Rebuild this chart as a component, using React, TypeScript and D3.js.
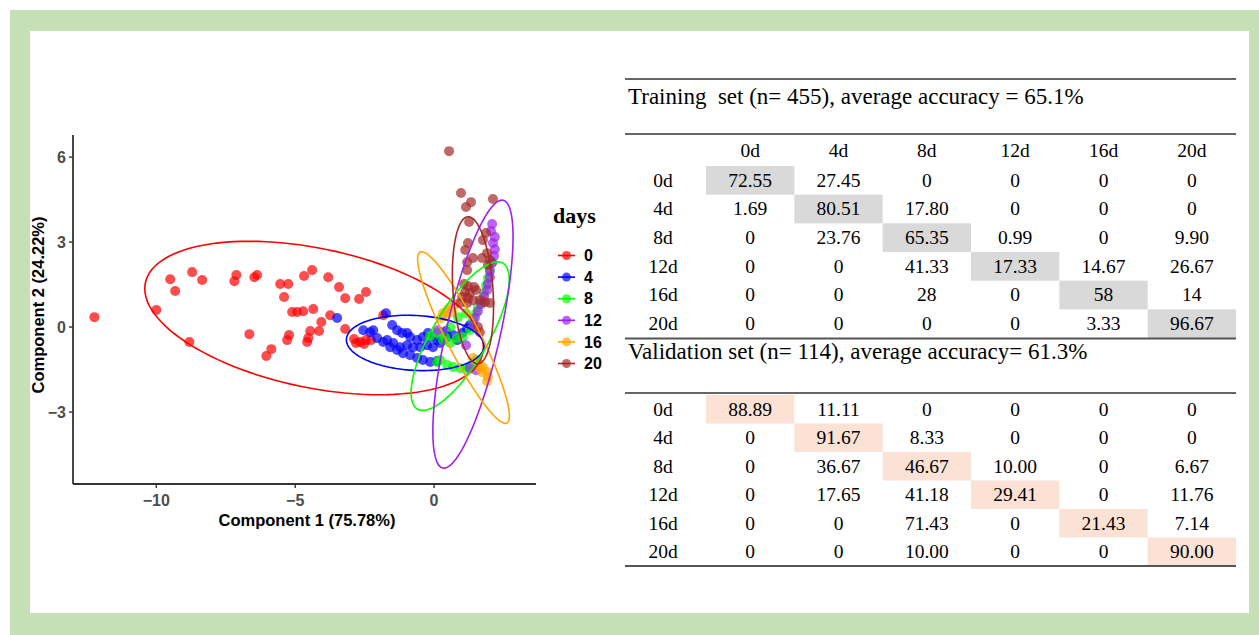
import * as d3 from 'd3';

// ---- scatter data (Component 1, Component 2) ----
const DAYS = ['0', '4', '8', '12', '16', '20'];
const DAY_COLORS = ['#FF0000', '#0000FF', '#00FF00', '#A020F0', '#FFA500', '#A52A2A'];

const day0: [number, number][] = [
  [-12.23, 0.35], [-10.0, 0.6], [-8.81, -0.53], [-9.5, 1.69], [-9.32, 1.27], [-8.71, 1.94],
  [-8.35, 1.66], [-7.19, 1.62], [-7.12, 1.84], [-6.47, 1.76], [-6.37, 1.84], [-6.65, -0.25],
  [-6.04, -1.02], [-5.86, -0.78], [-5.54, 1.52], [-5.25, 1.52], [-5.4, 1.06], [-4.68, 1.8],
  [-4.39, 2.01], [-3.81, 1.76], [-3.42, 1.41], [-3.2, 1.02], [-2.7, 0.99], [-2.45, 1.24],
  [-5.11, 0.53], [-4.93, 0.53], [-4.71, 0.56], [-4.35, 0.64], [-3.74, 0.42], [-4.06, 0.18],
  [-4.14, -0.14], [-4.46, -0.14], [-4.53, -0.39], [-4.57, -0.53], [-5.22, -0.28], [-5.29, -0.46],
  [-3.2, -0.07], [-2.88, -0.42], [-2.66, -0.53], [-2.45, -0.46], [-2.81, -0.56], [-2.52, -0.6],
  [-2.27, -0.46], [-1.83, 0.42],
];
const day4: [number, number][] = [
  [-3.49, 0.32], [-1.73, 0.49], [-1.51, 0.07], [-1.33, -0.11], [-1.15, -0.21], [-0.97, -0.21],
  [-0.86, -0.35], [-0.61, -0.46], [-0.4, -0.35], [-0.22, -0.21], [-2.55, -0.11], [-2.3, -0.18],
  [-2.19, -0.11], [-2.05, -0.39], [-1.83, -0.53], [-1.58, -0.71], [-1.33, -0.81], [-1.12, -0.92],
  [-0.86, -0.99], [-0.61, -1.09], [-0.4, -1.16], [-0.14, -1.23], [0.11, -1.2], [-1.69, -0.46],
  [-1.47, -0.56], [-1.22, -0.71], [-0.97, -0.64], [-0.76, -0.71], [-0.5, -0.71], [-0.25, -0.64],
  [-0.04, -0.71], [0.22, -0.56], [0.32, -0.46], [0.47, -0.35], [0.68, -0.28], [0.83, -0.46],
  [1.01, -0.21], [1.19, -0.04], [1.29, 0.07], [-0.11, -0.35], [0.11, -0.46], [0.43, -0.14],
];
const day8: [number, number][] = [
  [-0.14, -0.32], [0.11, -0.21], [0.32, -0.46], [0.58, -0.56], [0.83, -0.39], [1.04, -0.35],
  [1.29, -0.11], [1.4, 0.25], [1.51, 0.49], [1.58, 0.71], [1.69, 0.88], [1.8, 1.2],
  [1.87, 1.48], [1.94, 1.73], [2.01, 2.01], [2.09, 2.29], [0.22, -1.16], [0.47, -1.34],
  [0.68, -1.41], [0.94, -1.45], [1.15, -1.48], [0.58, 0.0], [0.86, 0.35], [1.15, 0.49],
  [0.4, -0.35], [1.51, -1.16], [1.29, -1.38], [0.11, -1.24],
];
const day12: [number, number][] = [
  [2.09, 3.64], [2.12, 2.97], [2.19, 2.75], [2.16, 2.51], [2.09, 2.26], [2.01, 1.98],
  [2.01, 1.76], [1.94, 1.52], [1.91, 1.31], [1.8, 1.09], [1.69, 0.81], [1.58, 0.56],
  [1.47, 0.32], [1.4, 0.07], [0.14, -0.11], [1.29, -1.45], [1.51, -1.52], [1.15, -0.64],
  [2.19, 3.18], [2.05, 3.39],
];
const day16: [number, number][] = [
  [0.32, 0.49], [0.47, 0.6], [0.58, 0.71], [0.76, 0.81], [0.65, 0.53], [0.43, 0.39],
  [0.25, 0.32], [1.58, -1.27], [1.76, -1.41], [1.91, -1.59], [1.94, -1.76], [1.91, -1.91],
  [1.73, -1.59], [1.65, -1.45], [1.4, -1.09],
];
const day20: [number, number][] = [
  [0.54, 6.21], [0.97, 4.73], [1.33, 4.41], [1.15, 4.24], [2.12, 4.52], [1.26, 3.71],
  [1.87, 3.32], [1.76, 3.07], [1.22, 2.97], [1.12, 2.72], [1.19, 2.29], [1.4, 2.44],
  [1.73, 2.44], [1.91, 2.61], [2.01, 2.36], [1.94, 2.19], [1.19, 2.01], [1.22, 1.45],
  [1.44, 1.41], [1.12, 1.24], [1.29, 1.2], [1.51, 1.31], [1.01, 1.06], [1.22, 1.02],
  [1.4, 0.95], [1.19, 0.85], [0.94, 0.85], [1.65, 0.95], [1.83, 0.88], [2.01, 0.85],
  [1.58, 0.0], [1.65, -0.18], [1.08, 1.52],
];
const POINTS = [day0, day4, day8, day12, day16, day20];

// 95% ellipses per group: centre, semi-axes, rotation (deg), in data units
const ellipseCx = [-4.32, -0.68, 0.94, 1.4, 1.06, 1.4];
const ellipseCy = [0.32, -0.56, -0.32, -0.25, -0.37, 1.3];
const ellipseRx = [6.2, 2.48, 3.0, 4.85, 3.4, 2.6];
const ellipseRy = [2.46, 0.97, 1.0, 0.97, 0.6, 0.72];
const ellipseAngle = [-11.5, -3, 59, 77, -62.6, 94];

const X_TICKS = [-10, -5, 0];
const Y_TICKS = [-3, 0, 3, 6];

// ---- confusion tables ----
const CLASSES = ['0d', '4d', '8d', '12d', '16d', '20d'];
const TRAIN_TITLE = 'Training  set (n= 455), average accuracy = 65.1%';
const VALID_TITLE = 'Validation set (n= 114), average accuracy= 61.3%';
const trainingRows = [
  ['72.55', '27.45', '0', '0', '0', '0'],
  ['1.69', '80.51', '17.80', '0', '0', '0'],
  ['0', '23.76', '65.35', '0.99', '0', '9.90'],
  ['0', '0', '41.33', '17.33', '14.67', '26.67'],
  ['0', '0', '28', '0', '58', '14'],
  ['0', '0', '0', '0', '3.33', '96.67'],
];
const validationRows = [
  ['88.89', '11.11', '0', '0', '0', '0'],
  ['0', '91.67', '8.33', '0', '0', '0'],
  ['0', '36.67', '46.67', '10.00', '0', '6.67'],
  ['0', '17.65', '41.18', '29.41', '0', '11.76'],
  ['0', '0', '71.43', '0', '21.43', '7.14'],
  ['0', '0', '10.00', '0', '0', '90.00'],
];

const W = 1259;
const H = 635;
const SANS = 'Liberation Sans, Arial, sans-serif';
const SERIF = 'Liberation Serif, Times New Roman, serif';

const xScale = d3.scaleLinear().domain([-13, 3.67]).range([73, 536]);
const yScale = d3.scaleLinear().domain([-5.54, 6.78]).range([484, 135]);

function ellipsePath(i: number) {
  const th = (ellipseAngle[i] * Math.PI) / 180;
  const pts: [number, number][] = d3.range(0, 121).map((k) => {
    const t = (k / 120) * 2 * Math.PI;
    const ex = ellipseRx[i] * Math.cos(t);
    const ey = ellipseRy[i] * Math.sin(t);
    return [
      ellipseCx[i] + ex * Math.cos(th) - ey * Math.sin(th),
      ellipseCy[i] + ex * Math.sin(th) + ey * Math.cos(th),
    ];
  });
  return (
    d3
      .line<[number, number]>()
      .x((d) => xScale(d[0]))
      .y((d) => yScale(d[1]))
      .curve(d3.curveLinearClosed)(pts) ?? ''
  );
}

const Scatter = () => {
  const fmt = d3.format('d');
  return (
    <g>
      {/* points */}
      {POINTS.map((pts, g) =>
        pts.map((p, j) => (
          <circle
            key={`${g}-${j}`}
            cx={xScale(p[0])}
            cy={yScale(p[1])}
            r={5}
            fill={DAY_COLORS[g]}
            fillOpacity={0.7}
          />
        ))
      )}
      {/* ellipses */}
      {DAYS.map((d, g) => (
        <path key={d} d={ellipsePath(g)} fill="none" stroke={DAY_COLORS[g]} strokeWidth={1.6} />
      ))}

      {/* axes */}
      <line x1={73} x2={73} y1={135} y2={484} stroke="#333" strokeWidth={1.8} />
      <line x1={73} x2={536} y1={484} y2={484} stroke="#333" strokeWidth={1.8} />
      {X_TICKS.map((t) => (
        <g key={t}>
          <line x1={xScale(t)} x2={xScale(t)} y1={484} y2={488} stroke="#333" strokeWidth={1.4} />
          <text x={xScale(t)} y={506} textAnchor="middle" fontFamily={SANS} fontWeight="bold" fontSize={16} fill="#4D4D4D">
            {fmt(t)}
          </text>
        </g>
      ))}
      {Y_TICKS.map((t) => (
        <g key={t}>
          <line x1={69} x2={73} y1={yScale(t)} y2={yScale(t)} stroke="#333" strokeWidth={1.4} />
          <text x={66} y={yScale(t)} dy="0.36em" textAnchor="end" fontFamily={SANS} fontWeight="bold" fontSize={16} fill="#4D4D4D">
            {fmt(t)}
          </text>
        </g>
      ))}
      <text x={307} y={526} textAnchor="middle" fontFamily={SANS} fontWeight="bold" fontSize={16.5} fill="#000">
        Component 1 (75.78%)
      </text>
      <text
        transform="translate(44, 305) rotate(-90)"
        textAnchor="middle"
        fontFamily={SANS}
        fontWeight="bold"
        fontSize={16.5}
        fill="#000"
      >
        Component 2 (24.22%)
      </text>

      {/* legend */}
      <text x={553} y={223} fontFamily={SERIF} fontWeight="bold" fontSize={22} fill="#000">
        days
      </text>
      {DAYS.map((d, g) => {
        const cy = 255.5 + g * 21.6;
        return (
          <g key={d}>
            <line x1={558} x2={575} y1={cy} y2={cy} stroke={DAY_COLORS[g]} strokeWidth={1.6} />
            <circle cx={566.5} cy={cy} r={4.5} fill={DAY_COLORS[g]} fillOpacity={0.7} />
            <text x={584} y={cy} dy="0.36em" fontFamily={SANS} fontWeight="bold" fontSize={16} fill="#000">
              {d}
            </text>
          </g>
        );
      })}
    </g>
  );
};

const Tables = () => {
  const colX = d3.scaleBand().domain(CLASSES).range([706, 1236]);
  const trainY = d3.scaleBand().domain(CLASSES).range([166, 338]);
  const validY = d3.scaleBand().domain(CLASSES).range([395, 566]);
  const labelX = 663;
  const cellFont = 19.5;

  const block = (rows: string[][], yS: d3.ScaleBand<string>, shade: string) =>
    CLASSES.map((r, i) => (
      <g key={r}>
        <rect
          x={colX(CLASSES[i])}
          y={yS(r)}
          width={colX.bandwidth()}
          height={yS.bandwidth()}
          fill={shade}
        />
        <text x={labelX} y={(yS(r) ?? 0) + yS.bandwidth() / 2} dy="0.33em" textAnchor="middle" fontFamily={SERIF} fontSize={cellFont} fill="#000">
          {r}
        </text>
        {rows[i].map((v, j) => (
          <text
            key={j}
            x={(colX(CLASSES[j]) ?? 0) + colX.bandwidth() / 2}
            y={(yS(r) ?? 0) + yS.bandwidth() / 2}
            dy="0.33em"
            textAnchor="middle"
            fontFamily={SERIF}
            fontSize={cellFont}
            fill="#000"
          >
            {v}
          </text>
        ))}
      </g>
    ));

  return (
    <g>
      <line x1={625} x2={1236} y1={79} y2={79} stroke="#666" strokeWidth={2} />
      <text x={628} y={104} fontFamily={SERIF} fontSize={23} fill="#000" style={{ whiteSpace: 'pre' }}>
        {TRAIN_TITLE}
      </text>
      <line x1={625} x2={1236} y1={134} y2={134} stroke="#666" strokeWidth={2} />
      {CLASSES.map((c) => (
        <text key={c} x={(colX(c) ?? 0) + colX.bandwidth() / 2} y={151} dy="0.33em" textAnchor="middle" fontFamily={SERIF} fontSize={cellFont} fill="#000">
          {c}
        </text>
      ))}
      {block(trainingRows, trainY, '#D9D9D9')}
      <line x1={625} x2={1236} y1={338.5} y2={338.5} stroke="#555" strokeWidth={2} />
      <text x={628} y={359} fontFamily={SERIF} fontSize={23} fill="#000" style={{ whiteSpace: 'pre' }}>
        {VALID_TITLE}
      </text>
      <line x1={625} x2={1236} y1={393} y2={393} stroke="#666" strokeWidth={2} />
      {block(validationRows, validY, '#FBE2D5')}
      <line x1={625} x2={1236} y1={566} y2={566} stroke="#555" strokeWidth={2} />
    </g>
  );
}

export default function App() {
  return (
    <svg width={W} height={H} style={{ position: 'absolute', left: 0, top: 0 }}>
      <rect x={0} y={0} width={W} height={H} fill="#fff" />
      <rect x={10} y={10} width={W - 10} height={H - 10} fill="#C5E0B4" />
      <rect x={30} y={31} width={1219} height={582} fill="#fff" />
      <Scatter />
      <Tables />
    </svg>
  );
}
